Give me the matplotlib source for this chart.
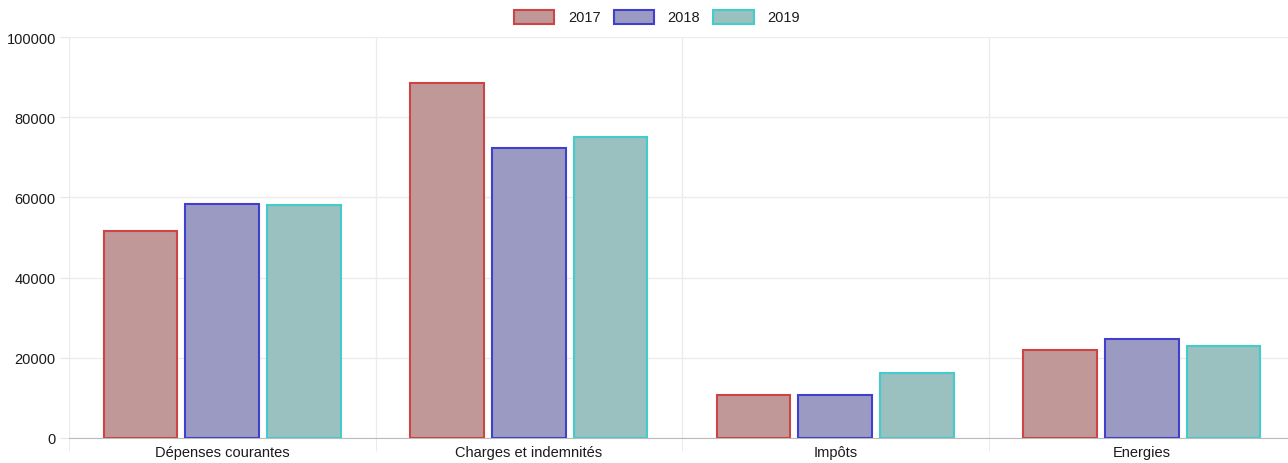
import numpy as np
import matplotlib.pyplot as plt
from matplotlib.patches import Patch

# Données
categories = ['Dépenses courantes', 'Charges et indemnités', 'Impôts', 'Energies']
years = ['2017', '2018', '2019']
v2017 = [51600, 88500, 10700, 21900]
v2018 = [58300, 72300, 10700, 24700]
v2019 = [58100, 75000, 16200, 22900]

fills = ['#c09898', '#9a9ac2', '#9ac0c0']
edges = ['#cc4444', '#4040cc', '#44cccc']

plt.rcParams['font.family'] = ['Liberation Sans', 'DejaVu Sans']

fig = plt.figure(figsize=(12.88, 4.64), dpi=100)
# la zone de tracé déborde un peu à droite comme dans l'original
ax = fig.add_axes([69 / 1288, 1 - 439 / 464, 1226 / 1288, (439 - 38) / 464])

x = np.arange(len(categories))
slot = 0.8 / 3
width = slot * 0.9
for i, vals in enumerate([v2017, v2018, v2019]):
    ax.bar(x + (i - 1) * slot, vals, width, color=fills[i], edgecolor=edges[i],
           linewidth=1.5, zorder=3)

ax.set_xlim(-0.5, len(categories) - 0.5)
ax.set_ylim(0, 100000)
ax.set_yticks(np.arange(0, 100001, 20000))
ax.set_xticks(x)
ax.set_xticklabels(categories, fontsize=10.5, color='#1a1a1a')
ax.tick_params(axis='x', length=0, pad=5)
ax.tick_params(axis='y', length=6.5, color='#e6e6e6', labelsize=10.5, labelcolor='#1a1a1a', pad=3)

# grille
ax.set_xticks(np.arange(-0.5, len(categories), 1.0), minor=True)
ax.tick_params(axis='x', which='minor', length=9.5, color='#e6e6e6')
ax.grid(axis='y', color='#ececec', linewidth=1, zorder=0)
ax.grid(axis='x', which='minor', color='#ececec', linewidth=1, zorder=0)
for s in ['top', 'right', 'left']:
    ax.spines[s].set_visible(False)
ax.spines['bottom'].set_color('#bbbbbb')

handles = [Patch(facecolor=fills[i], edgecolor=edges[i], linewidth=1.5, label=years[i]) for i in range(3)]
fig.legend(handles=handles, loc='center', bbox_to_anchor=(657 / 1288, 1 - 18 / 464), ncol=3,
           frameon=False, fontsize=10.5, handlelength=2.75, handleheight=1.1,
           columnspacing=0.9, handletextpad=0.95, labelcolor='#1a1a1a',
           borderpad=0, borderaxespad=0)

fig.savefig('out.png', dpi=100)
